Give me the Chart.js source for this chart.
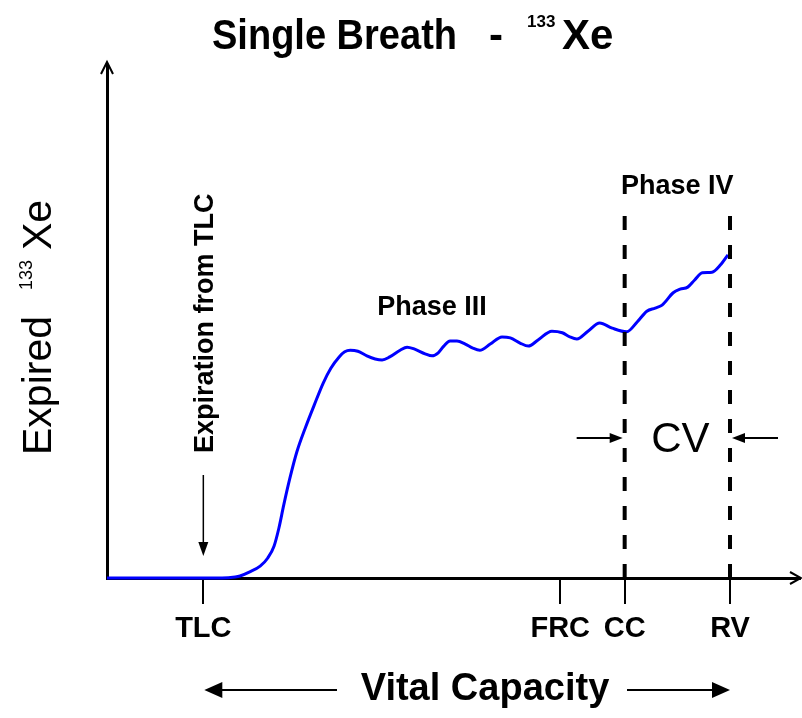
<!DOCTYPE html>
<html>
<head>
<meta charset="utf-8">
<title>Single Breath - 133Xe</title>
<script src="https://cdn.jsdelivr.net/npm/chart.js@4.4.0/dist/chart.umd.min.js"></script>
<style>
  html, body { margin: 0; padding: 0; background: #fff; }
</style>
</head>
<body>
<canvas id="breathChart" width="802" height="718"></canvas>
<script>
// ========================================
// Single breath 133Xe washout curve
// x = expired volume (% of axis), y = expired 133Xe (arbitrary units)
// ========================================

const volume = [0, 6.2, 13.4, 16.6, 18.5, 19.2, 20.6, 22.1, 23.2, 24.1, 24.8, 25.5, 26.4, 27.4,
    28.6, 29.9, 31.2, 32.3, 33.5, 34.3, 35.1, 36.2, 37.5, 38.7, 39.7, 40.8, 42.3, 43.3,
    44.4, 45.9, 46.9, 47.8, 48.6, 49.5, 50.5, 51.7, 52.8, 53.8, 55.3, 57.0, 58.2, 59.6,
    60.8, 62.2, 64.2, 65.7, 66.8, 67.8, 69.4, 71.1, 72.9, 75.0, 76.5, 77.9, 79.1, 80.1,
    81.7, 82.7, 83.8, 84.8, 85.9, 87.3, 88.5, 89.6];
const xenon = [0, 0, 0, 0, 0.2, 0.4, 1.2, 2.3, 3.9, 6.2, 9.7, 14.2, 19.5, 24.6,
    29.2, 33.7, 38.0, 40.9, 43.1, 44.1, 44.4, 44.2, 43.3, 42.7, 42.5, 43.1, 44.4, 45.0,
    44.6, 43.7, 43.3, 43.9, 45.2, 46.2, 46.2, 45.6, 44.8, 44.4, 45.6, 47.0, 46.8, 45.8,
    45.2, 46.4, 48.1, 47.8, 47.0, 46.6, 48.1, 49.7, 48.7, 48.0, 49.9, 52.0, 52.6, 53.2,
    55.6, 56.3, 56.7, 58.1, 59.5, 59.6, 61.0, 63.0];

const tickLabels = ['TLC', 'FRC', 'CC', 'RV'];
const tickValues = [13.9, 65.4, 74.7, 89.9];

const phaseIVTop = 73;      // top of the dashed closing-volume lines
const cvArrowLevel = 27.3;  // height of the CV arrows

const fontFamily = '"Liberation Sans", Arial, Helvetica, sans-serif';

// filled arrow from (x1,y1) to the tip (x2,y2)
function drawArrow(ctx, x1, y1, x2, y2, headLen, headHalf, width) {
    const ang = Math.atan2(y2 - y1, x2 - x1);
    const c = Math.cos(ang), s = Math.sin(ang);
    ctx.lineWidth = width;
    ctx.beginPath();
    ctx.moveTo(x1, y1);
    ctx.lineTo(x2 - c * headLen * 0.8, y2 - s * headLen * 0.8);
    ctx.stroke();
    ctx.beginPath();
    ctx.moveTo(x2, y2);
    ctx.lineTo(x2 - c * headLen - s * headHalf, y2 - s * headLen + c * headHalf);
    ctx.lineTo(x2 - c * headLen + s * headHalf, y2 - s * headLen - c * headHalf);
    ctx.closePath();
    ctx.fill();
}

// open (line) arrow head at the tip (x,y), pointing along (dx,dy)
function openHead(ctx, x, y, dx, dy, len, half) {
    ctx.beginPath();
    ctx.moveTo(x - dx * len - dy * half, y - dy * len + dx * half);
    ctx.lineTo(x, y);
    ctx.lineTo(x - dx * len + dy * half, y - dy * len - dx * half);
    ctx.stroke();
}

const annotations = {
    id: 'annotations',
    afterDraw(chart) {
        const { ctx, chartArea: area, scales: { x, y } } = chart;
        const cc = x.getPixelForValue(tickValues[2]);
        const rv = x.getPixelForValue(tickValues[3]);
        const tlc = x.getPixelForValue(tickValues[0]);

        ctx.save();
        ctx.fillStyle = '#000';
        ctx.strokeStyle = '#000';

        // axis arrow heads
        ctx.lineWidth = 2;
        ctx.beginPath();
        ctx.moveTo(area.left, area.top);
        ctx.lineTo(area.left, area.top - 3);
        ctx.stroke();
        openHead(ctx, area.left, area.top - 3, 0, -1, 12, 6);
        openHead(ctx, area.right + 1, area.bottom, 1, 0, 11, 6);

        // dashed lines at CC and RV
        ctx.lineWidth = 4;
        ctx.setLineDash([14, 15]);
        [cc, rv].forEach(px => {
            ctx.beginPath();
            ctx.moveTo(px, area.bottom);
            ctx.lineTo(px, y.getPixelForValue(phaseIVTop));
            ctx.stroke();
        });
        ctx.setLineDash([]);

        // title
        ctx.textBaseline = 'alphabetic';
        ctx.textAlign = 'left';
        ctx.font = `bold 42px ${fontFamily}`;
        ctx.fillText('Single Breath', 212, 49, 245);
        ctx.fillText('-', 489, 49);
        ctx.fillText('Xe', 562, 49, 53);
        ctx.font = `bold 17px ${fontFamily}`;
        ctx.fillText('133', 527, 27, 33);

        // y axis title (rotated)
        ctx.save();
        ctx.translate(51, 455);
        ctx.rotate(-Math.PI / 2);
        ctx.font = `41px ${fontFamily}`;
        ctx.fillText('Expired', 0, 0);
        ctx.fillText('Xe', 205, 0);
        ctx.font = `18px ${fontFamily}`;
        ctx.fillText('133', 165, -19);
        ctx.restore();

        // expiration from TLC
        ctx.save();
        ctx.translate(tlc + 10, 453);
        ctx.rotate(-Math.PI / 2);
        ctx.font = `bold 27px ${fontFamily}`;
        ctx.fillText('Expiration from TLC', 0, 0);
        ctx.restore();
        ctx.lineWidth = 1.5;
        drawArrow(ctx, tlc, 475, tlc, 556, 14, 5, 1.5);

        // phase labels
        ctx.font = `bold 27px ${fontFamily}`;
        ctx.fillText('Phase III', x.getPixelForValue(39), y.getPixelForValue(51.3));
        ctx.textAlign = 'center';
        ctx.fillText('Phase IV', (cc + rv) / 2, y.getPixelForValue(74.9));

        // closing volume
        const cvY = y.getPixelForValue(cvArrowLevel);
        ctx.font = `42px ${fontFamily}`;
        ctx.fillText('CV', (cc + rv) / 2 + 3, cvY + 14);
        drawArrow(ctx, cc - 48, cvY, cc - 2, cvY, 13, 5, 2);
        drawArrow(ctx, rv + 48, cvY, rv + 2, cvY, 13, 5, 2);

        // vital capacity
        ctx.font = `bold 38px ${fontFamily}`;
        ctx.fillText('Vital Capacity', 485, 700);
        drawArrow(ctx, 337, 690, tlc + 1, 690, 18, 8, 2);
        drawArrow(ctx, 627, 690, rv, 690, 18, 8, 2);

        ctx.restore();
    }
};

function initBreathChart() {
    const ctx = document.getElementById('breathChart').getContext('2d');
    new Chart(ctx, {
        type: 'line',
        data: {
            datasets: [{
                data: volume.map((v, i) => ({ x: v, y: xenon[i] })),
                borderColor: '#0000ff',
                borderWidth: 3,
                pointRadius: 0,
                cubicInterpolationMode: 'monotone',
                fill: false,
                clip: false
            }]
        },
        options: {
            responsive: false,
            animation: false,
            layout: { padding: { left: 107, right: 2, top: 65, bottom: 40 } },
            plugins: {
                legend: { display: false },
                tooltip: { enabled: false }
            },
            scales: {
                x: {
                    type: 'linear',
                    min: 0,
                    max: 100,
                    afterBuildTicks: s => { s.ticks = tickValues.map(v => ({ value: v })); },
                    afterFit: s => { s.height = 100; },
                    grid: { drawOnChartArea: false, drawTicks: true, tickLength: 26, color: '#000', lineWidth: 2 },
                    border: { display: true, color: '#000', width: 3 },
                    ticks: {
                        autoSkip: false,
                        maxRotation: 0,
                        padding: 8,
                        color: '#000',
                        font: { family: fontFamily, size: 29, weight: 'bold' },
                        callback: (v, i) => tickLabels[i]
                    }
                },
                y: {
                    min: 0,
                    max: 100,
                    afterFit: s => { s.width = 0; },
                    grid: { display: false },
                    ticks: { display: false },
                    border: { display: true, color: '#000', width: 3 }
                }
            }
        },
        plugins: [annotations]
    });
}

document.addEventListener('DOMContentLoaded', initBreathChart);
</script>
</body>
</html>
